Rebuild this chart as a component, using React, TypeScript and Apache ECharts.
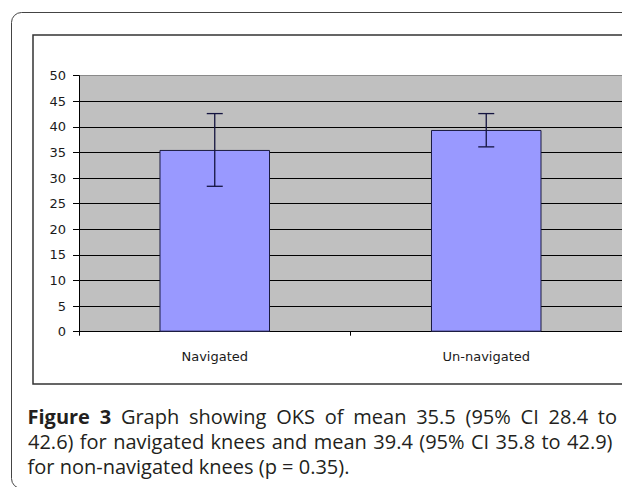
import React, { useEffect, useRef } from "react";
import * as echarts from "echarts";

const categories = ["Navigated", "Un-navigated"];
const means = [35.5, 39.4];
const ciLow = [28.4, 36.1];
const ciHigh = [42.6, 42.6];
const yMin = 0;
const yMax = 50;
const yInterval = 5;

const captionLines: { t: string; bold?: boolean }[][] = [
  [
    { t: "Figure", bold: true },
    { t: "3", bold: true },
    { t: "Graph" },
    { t: "showing" },
    { t: "OKS" },
    { t: "of" },
    { t: "mean" },
    { t: "35.5" },
    { t: "(95%" },
    { t: "CI" },
    { t: "28.4" },
    { t: "to" },
  ],
  [
    { t: "42.6)" },
    { t: "for" },
    { t: "navigated" },
    { t: "knees" },
    { t: "and" },
    { t: "mean" },
    { t: "39.4" },
    { t: "(95%" },
    { t: "CI" },
    { t: "35.8" },
    { t: "to" },
    { t: "42.9)" },
  ],
  [
    { t: "for" },
    { t: "non-navigated" },
    { t: "knees" },
    { t: "(p" },
    { t: "=" },
    { t: "0.35)." },
  ],
];

const CAP_FONT = '20px "Open Sans"';
const CAP_BOLD = 'bold 20px "Open Sans"';
const AXIS_FONT = "DejaVu Sans";

function buildCaption(): any[] {
  const canvas = document.createElement("canvas");
  const ctx = canvas.getContext("2d")!;
  const measure = (font: string, s: string) => {
    ctx.font = font;
    return ctx.measureText(s).width;
  };
  const lineSpecs = [
    { y: 416, x0: 27.5, x1: 617, justify: true },
    { y: 441, x0: 28, x1: 612.5, justify: true },
    { y: 466, x0: 27.5, x1: 0, justify: false },
  ];
  const out: any[] = [];
  captionLines.forEach((words, li) => {
    const spec = lineSpecs[li];
    const widths = words.map((w) => measure(w.bold ? CAP_BOLD : CAP_FONT, w.t));
    const total = widths.reduce((a, b) => a + b, 0);
    const gap = spec.justify
      ? (spec.x1 - spec.x0 - total) / (words.length - 1)
      : measure(CAP_FONT, " ");
    let x = spec.x0;
    words.forEach((w, i) => {
      out.push({
        type: "text",
        x,
        y: spec.y,
        silent: true,
        style: {
          text: w.t,
          font: w.bold ? CAP_BOLD : CAP_FONT,
          fill: "#231F20",
          textAlign: "left",
          textVerticalAlign: "middle",
        },
      });
      x += widths[i] + gap;
    });
  });
  return out;
}

export default function App() {
  const ref = useRef<HTMLDivElement>(null);
  useEffect(() => {
    const chart = echarts.init(ref.current!, undefined, { renderer: "svg" });
    const nLines = (yMax - yMin) / yInterval + 1;
    const splitColors = Array.from({ length: nLines }, (_, i) =>
      i === nLines - 1 ? "#8a8a8a" : "#000000"
    );
    const option: any = {
      animation: false,
      backgroundColor: "#ffffff",
      grid: {
        left: 79,
        top: 75.7,
        width: 545,
        height: 256,
        show: true,
        backgroundColor: "#C0C0C0",
        borderWidth: 0,
      },
      xAxis: {
        type: "category",
        data: categories,
        axisLine: { show: true, lineStyle: { color: "#000", width: 1 } },
        axisTick: { show: true, length: 4, lineStyle: { color: "#000" } },
        axisLabel: {
          color: "#1a1a1a",
          fontSize: 13,
          fontFamily: AXIS_FONT,
          margin: 18,
        },
        splitLine: { show: false },
      },
      yAxis: {
        type: "value",
        min: yMin,
        max: yMax,
        interval: yInterval,
        axisLine: { show: true, lineStyle: { color: "#000", width: 1 } },
        axisTick: { show: true, length: 6, lineStyle: { color: "#000" } },
        axisLabel: {
          color: "#1a1a1a",
          fontSize: 13,
          fontFamily: AXIS_FONT,
          margin: 13,
        },
        splitLine: { show: true, lineStyle: { color: splitColors, width: 1 } },
      },
      series: [
        {
          type: "bar",
          data: means,
          barWidth: "40.7%",
          itemStyle: { color: "#9999FF", borderColor: "#1a1a40", borderWidth: 1 },
          z: 2,
        },
        {
          type: "custom",
          z: 5,
          data: categories.map((_, i) => [i, ciLow[i], ciHigh[i]]),
          encode: { x: 0, y: [1, 2] },
          renderItem: (params: any, api: any) => {
            const x = api.value(0);
            const lo = api.coord([x, api.value(1)]);
            const hi = api.coord([x, api.value(2)]);
            const hw = 8;
            const style = { stroke: "#141440", lineWidth: 1.3 };
            return {
              type: "group",
              children: [
                { type: "line", shape: { x1: lo[0], y1: lo[1], x2: hi[0], y2: hi[1] }, style },
                { type: "line", shape: { x1: hi[0] - hw, y1: hi[1], x2: hi[0] + hw, y2: hi[1] }, style },
                { type: "line", shape: { x1: lo[0] - hw, y1: lo[1], x2: lo[0] + hw, y2: lo[1] }, style },
              ],
            };
          },
        },
      ],
      graphic: [
        {
          type: "rect",
          silent: true,
          shape: { x: 11.5, y: 12.5, width: 660, height: 476, r: 10 },
          style: { fill: "none", stroke: "#444", lineWidth: 1 },
        },
        {
          type: "rect",
          silent: true,
          shape: { x: 33, y: 35, width: 640, height: 349 },
          style: { fill: "none", stroke: "#333", lineWidth: 1.5 },
        },
        ...buildCaption(),
      ],
    };
    chart.setOption(option);
    return () => chart.dispose();
  }, []);
  return (
    <div
      ref={ref}
      style={{ position: "fixed", left: 0, top: 0, width: 622, height: 487 }}
    />
  );
}
